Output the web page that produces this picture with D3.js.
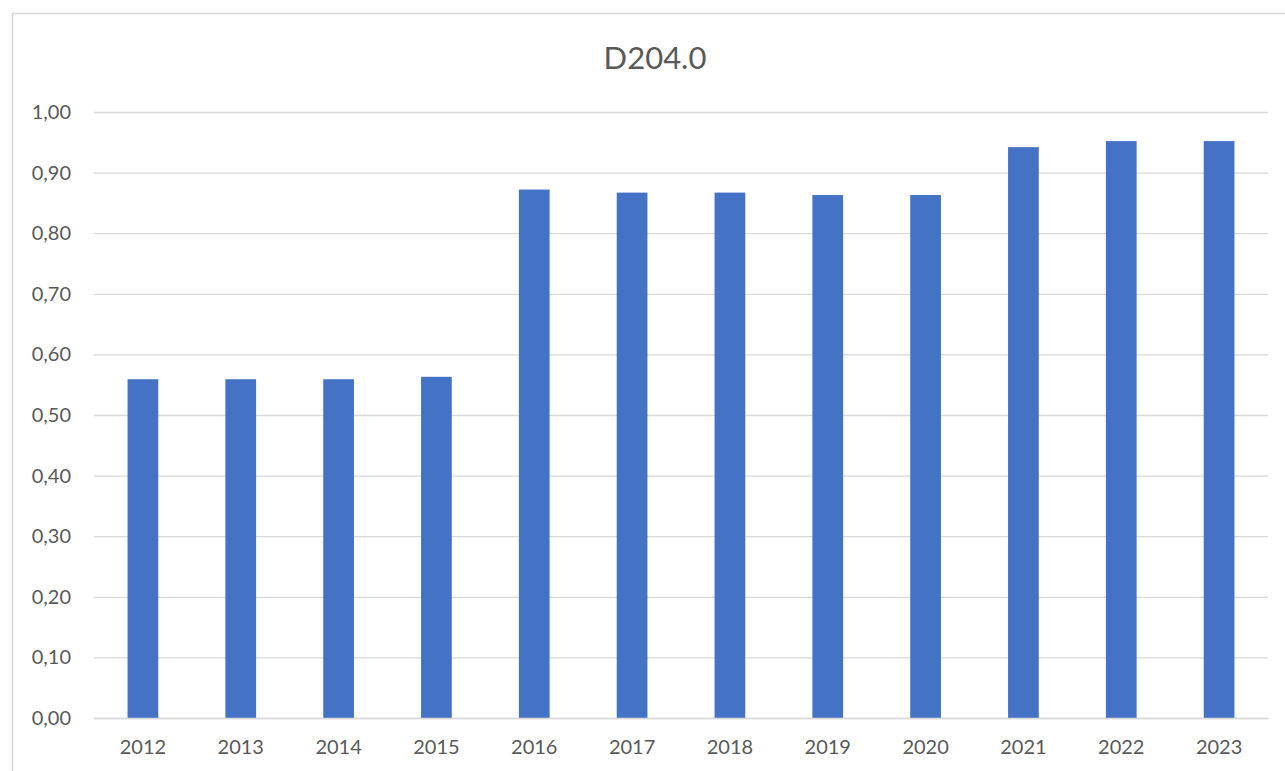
<!DOCTYPE html>
<html>
<head>
<meta charset="utf-8">
<script src="https://cdn.jsdelivr.net/npm/d3@7"></script>
<style>
  body { margin: 0; background: #fff; }
  svg { display: block; }
  text { font-family: Lato, 'Open Sans', sans-serif; }
  .tick text { fill: #595959; font-size: 20px; }
</style>
</head>
<body>
<svg id="chart"></svg>
<script>
const years = ['2012', '2013', '2014', '2015', '2016', '2017', '2018', '2019', '2020', '2021', '2022', '2023'];
const values = [0.559, 0.559, 0.559, 0.563, 0.872, 0.867, 0.867, 0.863, 0.863, 0.942, 0.952, 0.952];
const yTicks = [0, 0.1, 0.2, 0.3, 0.4, 0.5, 0.6, 0.7, 0.8, 0.9, 1.0];
const title = 'D204.0';

const width = 1285;
const height = 771;
const margin = { top: 112, right: 17, bottom: 53, left: 94 };

const svg = d3.select('#chart').attr('width', width).attr('height', height);

// outer chart frame
svg.append('rect')
  .attr('x', 12.5).attr('y', 13.5)
  .attr('width', width).attr('height', height)
  .attr('fill', 'none')
  .attr('stroke', '#d9d9d9')
  .attr('stroke-width', 1.5);

const x = d3.scaleBand()
  .domain(years)
  .range([margin.left, width - margin.right])
  .paddingInner(0.686)
  .paddingOuter(0.343);

const y = d3.scaleLinear()
  .domain([0, 1])
  .range([height - margin.bottom, margin.top]);

const fmt = v => d3.format('.2f')(v).replace('.', ',');

const yAxis = d3.axisLeft(y)
  .tickValues(yTicks)
  .tickFormat(fmt)
  .tickSize(-(width - margin.right - margin.left))
  .tickPadding(23);

const gy = svg.append('g')
  .attr('transform', `translate(${margin.left},0)`)
  .call(yAxis);
gy.attr('font-family', null).attr('font-size', null);
gy.select('.domain').remove();
gy.selectAll('.tick line').attr('stroke', '#d9d9d9').attr('stroke-width', 1.3);

svg.append('g')
  .selectAll('rect')
  .data(values)
  .join('rect')
  .attr('x', (d, i) => x(years[i]))
  .attr('width', x.bandwidth())
  .attr('y', d => y(d))
  .attr('height', d => y(0) - y(d))
  .attr('fill', '#4472c4');

const xAxis = d3.axisBottom(x).tickSize(0).tickPadding(22);
const gx = svg.append('g')
  .attr('transform', `translate(0,${y(0)})`)
  .call(xAxis);
gx.attr('font-family', null).attr('font-size', null);
gx.select('.domain').attr('stroke', '#d9d9d9').attr('stroke-width', 1.3);

svg.append('text')
  .attr('x', 655)
  .attr('y', 69)
  .attr('text-anchor', 'middle')
  .attr('fill', '#595959')
  .attr('font-size', 31)
  .text(title);
</script>
</body>
</html>
